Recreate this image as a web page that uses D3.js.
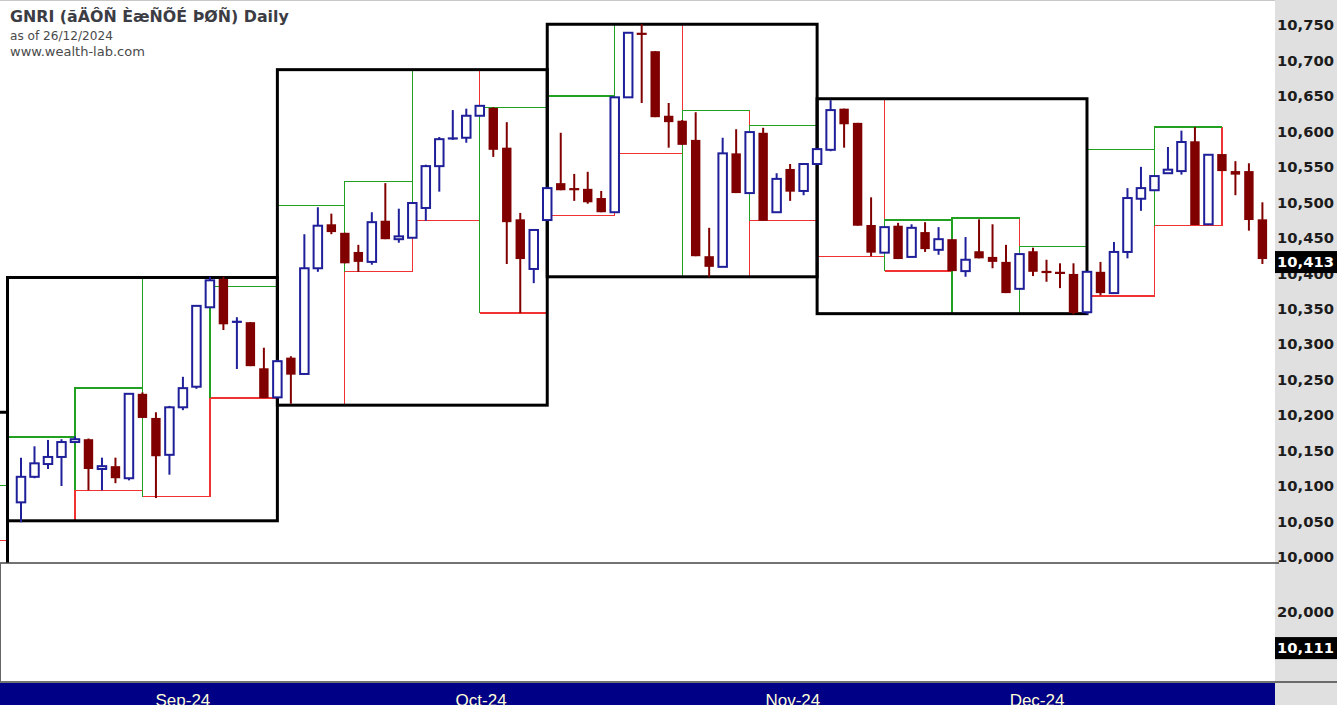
<!DOCTYPE html>
<html><head><meta charset="utf-8">
<script src="https://cdn.jsdelivr.net/npm/d3@7"></script>
<style>html,body{margin:0;padding:0;background:#fff;overflow:hidden}</style>
</head><body><svg id="c" width="1337" height="705"></svg>
<script>
// ---------- DATA ----------
const dates = [
 "14/08/2024","16/08/2024","19/08/2024","20/08/2024","21/08/2024","22/08/2024","23/08/2024","26/08/2024","27/08/2024","28/08/2024","29/08/2024","30/08/2024",
 "02/09/2024","03/09/2024","04/09/2024","05/09/2024","06/09/2024","09/09/2024","10/09/2024","11/09/2024","12/09/2024","13/09/2024","16/09/2024","17/09/2024","18/09/2024","19/09/2024","20/09/2024","23/09/2024","24/09/2024","25/09/2024","26/09/2024","27/09/2024","30/09/2024",
 "01/10/2024","02/10/2024","03/10/2024","04/10/2024","07/10/2024","08/10/2024","09/10/2024","10/10/2024","11/10/2024","14/10/2024","15/10/2024","16/10/2024","17/10/2024","18/10/2024","21/10/2024","22/10/2024","23/10/2024","24/10/2024","25/10/2024","29/10/2024","30/10/2024","31/10/2024",
 "01/11/2024","04/11/2024","05/11/2024","06/11/2024","07/11/2024","08/11/2024","11/11/2024","12/11/2024","13/11/2024","14/11/2024","15/11/2024","18/11/2024","19/11/2024","20/11/2024","21/11/2024","22/11/2024","25/11/2024","26/11/2024","27/11/2024","28/11/2024","29/11/2024",
 "02/12/2024","03/12/2024","04/12/2024","05/12/2024","06/12/2024","09/12/2024","10/12/2024","11/12/2024","12/12/2024","13/12/2024","16/12/2024","17/12/2024","18/12/2024","19/12/2024","20/12/2024","23/12/2024","24/12/2024"
];
const openV = [10070,10106,10124,10134,10155,10159,10117,10121,10104,10223,10189,10137,10204,10233,10345,10385,10323,10324,10259,10218,
 10274,10251,10400,10462,10450,10423,10409,10467,10441,10443,10485,10544,10582,10584,10615,10626,10570,10469,10399,10468,
 10520,10512,10512,10499,10479,10641,10732,10706,10615,10608,10581,10417,10402,10562,10506,10591,10479,10540,10509,10547,
 10567,10625,10605,10461,10422,10460,10416,10451,10426,10441,10396,10424,10416,10409,10371,10424,10395.5,10394,10392,10338,
 10395,10365,10423,10498,10510,10534,10537,10579,10462,10561,10537,10537,10469];
const highV = [10133,10149,10158,10159,10163,10160,10133,10133,10224,10225,10197,10206,10247,10348,10388,10388,10331,10324,10288,10271,
 10276,10448,10486,10477,10450,10433,10479,10520,10484,10492,10546,10585,10623,10625,10629,10627,10606,10478,10455,10515,
 10591,10533,10536,10509,10641,10732,10744,10706,10633,10609,10620,10457,10584,10596,10592,10598,10534,10547,10547,10568,
 10637,10625,10605,10500,10458,10464,10462,10465,10458,10441,10444,10469,10462,10433,10420,10429,10412,10407,10407,10396,
 10409,10437,10513,10543,10530,10571,10594,10599,10560,10561,10551,10548,10493];
const lowV = [10042,10104,10117,10093,10154,10087,10087,10097,10101,10189,10076,10109,10200,10230,10345,10313,10258,10262,10217,10217,
 10209,10250,10395,10448,10407,10395,10405,10441,10436,10443,10467,10508,10581,10577,10615,10557,10406,10337,10379,10467,
 10510,10495,10491,10479,10479,10641,10633,10613,10570,10574,10417,10388,10402,10506,10506,10467,10479,10495,10503,10547,
 10565,10570,10460,10417,10422,10413,10416,10423,10419,10396,10388,10414,10400,10365,10371,10389,10381,10372,10335,10335,
 10362,10364,10414,10481,10510,10534,10532,10461,10462,10537,10503,10453,10406];
const closeV = [10106,10125,10134,10155,10159,10117,10121,10104,10223,10189,10135,10204,10231,10347,10383,10321,10326,10262,10217,10269,
 10250,10400,10460,10451,10407,10409,10465,10441,10445,10492,10544,10582,10584,10615,10629,10567,10465,10413,10454,10513,
 10510,10511,10493,10479,10641,10732,10729,10613,10606,10574,10417,10402,10562,10506,10592,10467,10526,10508,10547,10568,
 10623,10603,10460,10422,10458,10413,10457,10427,10441,10396,10412,10414,10409,10365,10420,10395,10394,10393,10337,10395,
 10365,10423,10499,10513,10530,10539,10578,10461,10560,10537,10532,10468,10413];

// big (20-bar) boxes: bar-centre span and levels
const boxFrom = [-21, -1, 19, 39, 59];
const boxTo   = [ -1, 19, 39, 59, 79];
const boxHigh = [10197, 10387, 10680, 10744, 10639];
const boxLow  = [ 9970, 10044, 10207, 10388, 10336];

// small (5-bar) boxes
const subFrom = [-6,-1, 4, 9,14,19,24,29,34,39,44,49,54,59,64,69,74,79,84];
const subTo   = [-1, 4, 9,14,19,24,29,34,39,44,49,54,59,64,69,74,79,84,89];
const subHigh = [10094,10162,10231,10387,10374,10488,10522,10680,10627,10643,10744,10622,10601,10639,10468,10471,10431,10567,10599];
const subLow  = [10016,10044,10087,10078,10217,10207,10395,10467,10337,10474,10562,10388,10467,10417,10396,10336,10336,10361,10460];

const priceTicks = [10000,10050,10100,10150,10200,10250,10300,10350,10400,10450,10500,10550,10600,10650,10700,10750];
const volTicks = [20000];
const lastVolume = 10111;
const monthLabels = ["Sep-24","Oct-24","Nov-24","Dec-24"];
const monthBars = [12, 34.1, 57.2, 75.3];

const titleText = "GNRI (ãÄÔÑ ÈæÑÕÉ ÞØÑ) Daily";
const subTitle1 = "as of 26/12/2024";
const subTitle2 = "www.wealth-lab.com";

// ---------- LAYOUT ----------
const W = 1337, H = 705, plotR = 1275, paneB = 563, volB = 682;
const svg = d3.select("#c");
const x = d3.scaleLinear().domain([0, dates.length - 1]).range([21, 1262.4]);
const y = d3.scaleLinear().domain([10000, 10750]).range([552, 20]);
const yv = d3.scaleLinear().domain([0, 20000]).range([volB, 607]);

const UP = "#1f1f9a", DN = "#800000", GREEN = "#22a022", RED = "#f03232";

svg.append("rect").attr("width", W).attr("height", H).attr("fill", "#fff");
// right axis panel
svg.append("rect").attr("x", plotR).attr("y", 0).attr("width", W - plotR).attr("height", H).attr("fill", "#e0e0e0");

svg.append("defs").append("clipPath").attr("id", "pc")
  .append("rect").attr("x", 0).attr("y", 0).attr("width", plotR).attr("height", paneB);

const pane = svg.append("g").attr("clip-path", "url(#pc)");

// small boxes
const subs = d3.range(subFrom.length).map(i => ({a: subFrom[i], b: subTo[i], hi: subHigh[i], lo: subLow[i]}));
const sg = pane.append("g").attr("shape-rendering", "crispEdges").attr("stroke-width", 1.3).attr("fill", "none");
subs.forEach(s => {
  const x0 = x(s.a), x1 = x(s.b), yt = y(s.hi), yb = y(s.lo);
  sg.append("path").attr("d", `M${x0},${yb}H${x1}V${yt}`).attr("stroke", RED);
  sg.append("path").attr("d", `M${x0},${yb}V${yt}H${x1}`).attr("stroke", GREEN);
});

// big boxes
const boxes = d3.range(boxFrom.length).map(i => ({a: boxFrom[i], b: boxTo[i], hi: boxHigh[i], lo: boxLow[i]}));
pane.append("g").selectAll("rect").data(boxes).join("rect")
  .attr("x", d => x(d.a)).attr("y", d => y(d.hi))
  .attr("width", d => x(d.b) - x(d.a)).attr("height", d => y(d.lo) - y(d.hi))
  .attr("fill", "none").attr("stroke", "#000").attr("stroke-width", 3);

// candles
const bars = dates.map((d, i) => ({i, o: openV[i], h: highV[i], l: lowV[i], c: closeV[i]}));
const cg = pane.append("g");
const bw = 8.5;
bars.forEach(b => {
  const up = b.c > b.o;
  const col = up ? UP : DN;
  const cx = x(b.i);
  const g = cg.append("g");
  g.append("line").attr("x1", cx).attr("x2", cx).attr("y1", y(b.h)).attr("y2", y(b.l))
    .attr("stroke", col).attr("stroke-width", 2);
  const yt = y(Math.max(b.o, b.c)), yb = y(Math.min(b.o, b.c));
  const hgt = yb - yt;
  if (hgt < 2.5) {
    g.append("line").attr("x1", cx - 5).attr("x2", cx + 5).attr("y1", (yt + yb) / 2).attr("y2", (yt + yb) / 2)
      .attr("stroke", col).attr("stroke-width", 2.2);
  } else if (up) {
    g.append("rect").attr("x", cx - bw / 2).attr("y", yt).attr("width", bw).attr("height", hgt)
      .attr("fill", "#fff").attr("stroke", col).attr("stroke-width", 2);
  } else {
    g.append("rect").attr("x", cx - 4.7).attr("y", yt).attr("width", 9.4).attr("height", hgt)
      .attr("fill", col);
  }
});

// pane separators
svg.append("line").attr("x1", 0).attr("x2", plotR + 4).attr("y1", paneB).attr("y2", paneB).attr("stroke", "#444").attr("stroke-width", 1.5);
svg.append("line").attr("x1", 0).attr("x2", W).attr("y1", volB).attr("y2", volB).attr("stroke", "#444").attr("stroke-width", 1.5);
svg.append("line").attr("x1", 0.5).attr("x2", 0.5).attr("y1", paneB).attr("y2", volB).attr("stroke", "#666").attr("stroke-width", 1);
svg.append("line").attr("x1", 0).attr("x2", plotR).attr("y1", 0.5).attr("y2", 0.5).attr("stroke", "#c8c8c8").attr("stroke-width", 1);

// date band
svg.append("rect").attr("x", 0).attr("y", volB + 1).attr("width", plotR).attr("height", H - volB - 1).attr("fill", "#000086");
const fmtM = svg.append("g").selectAll("text").data(monthLabels).join("text")
  .attr("x", (d, i) => x(monthBars[i])).attr("y", 705.5)
  .attr("text-anchor", "middle").attr("font-family", "Liberation Sans, Arial, sans-serif")
  .attr("font-size", 17).attr("fill", "#ffffd8").text(d => d);

// price axis
const AX_FONT = "DejaVu Sans, Verdana, sans-serif";
const ax = svg.append("g").attr("transform", `translate(${plotR},5)`)
  .call(d3.axisRight(y).tickValues(priceTicks).tickFormat(d3.format(",")).tickSize(0));
ax.select(".domain").remove();
ax.selectAll("text").attr("x", W - plotR - 3).attr("text-anchor", "end")
  .attr("font-family", AX_FONT).attr("font-weight", "bold").attr("font-size", 14).attr("fill", "#1c1c1c");

// volume axis
const vax = svg.append("g").attr("transform", `translate(${plotR},5)`)
  .call(d3.axisRight(yv).tickValues(volTicks).tickFormat(d3.format(",")).tickSize(0));
vax.select(".domain").remove();
vax.selectAll("text").attr("x", W - plotR - 3).attr("text-anchor", "end")
  .attr("font-family", AX_FONT).attr("font-weight", "bold").attr("font-size", 14).attr("fill", "#1c1c1c");

// fit axis font width
const probe = ax.select("text");
const pw = probe.node().getComputedTextLength();
const axFs = 14 * 57 / pw;
svg.selectAll(".tick text").attr("font-size", axFs);

// current value tags
function tag(yy, val) {
  svg.append("rect").attr("x", plotR).attr("y", yy - 11).attr("width", W - plotR).attr("height", 22).attr("fill", "#000");
  svg.append("text").attr("x", W - 3).attr("y", yy).attr("dy", "0.35em").attr("text-anchor", "end")
    .attr("font-family", AX_FONT).attr("font-weight", "bold").attr("font-size", axFs).attr("fill", "#fff")
    .text(d3.format(",")(val));
}
tag(y(closeV[closeV.length - 1]) + 3, closeV[closeV.length - 1]);
tag(yv(lastVolume) + 4, lastVolume);

// titles
function fitText(sel, target) {
  const w = sel.node().getComputedTextLength();
  sel.attr("font-size", parseFloat(sel.attr("font-size")) * target / w);
}
const t1 = svg.append("text").attr("x", 10).attr("y", 22).attr("font-family", "DejaVu Sans, Verdana, sans-serif")
  .attr("font-weight", "bold").attr("font-size", 15).attr("fill", "#3c3c44").text(titleText);
fitText(t1, 279);
const t2 = svg.append("text").attr("x", 10).attr("y", 40).attr("font-family", "DejaVu Sans, Verdana, sans-serif")
  .attr("font-size", 11).attr("fill", "#4a4a4a").text(subTitle1);
fitText(t2, 103);
const t3 = svg.append("text").attr("x", 10).attr("y", 56).attr("font-family", "DejaVu Sans, Verdana, sans-serif")
  .attr("font-size", 11).attr("fill", "#4a4a4a").text(subTitle2);
fitText(t3, 135);
</script></body></html>
